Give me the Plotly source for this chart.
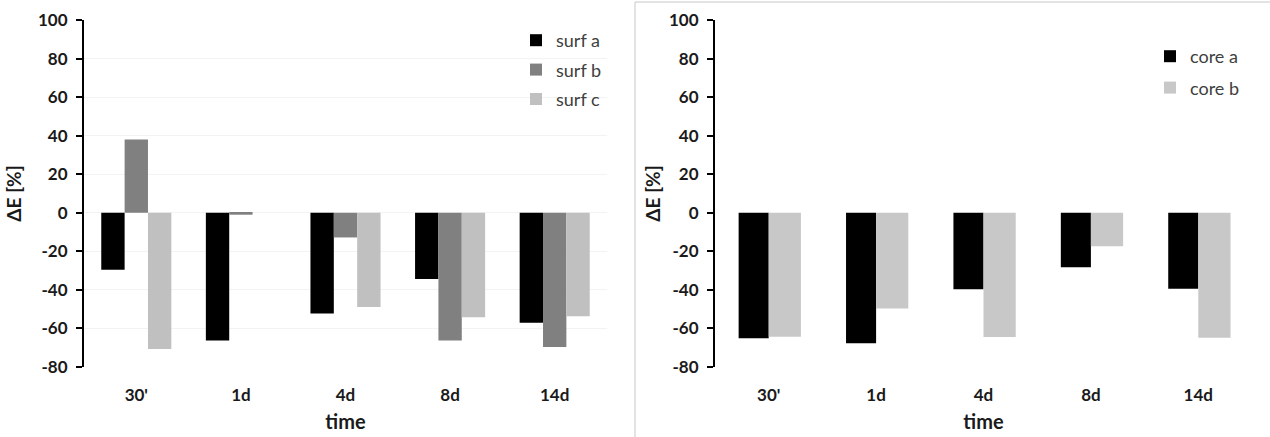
import plotly.graph_objects as go

categories = ["30'", "1d", "4d", "8d", "14d"]

surf_a = [-29.5, -66.3, -52.3, -34.4, -57.0]
surf_b = [38.0, -1.0, -12.8, -66.3, -69.6]
surf_c = [-70.6, 0.0, -48.9, -54.2, -53.7]

core_a = [-65.1, -67.7, -39.7, -28.2, -39.4]
core_b = [-64.3, -49.7, -64.4, -17.3, -64.8]

y_ticks = [-80, -60, -40, -20, 0, 20, 40, 60, 80, 100]
y_tick_labels = ["-80", "-60", "-40", "-20", "0", "20", "40", "60", "80", "100"]
y_range = [-80, 100]

W, H = 1270, 437
FONT = "Lato, 'Open Sans', sans-serif"
TXT = "#1a1a1a"

# domains (paper)
left_dom = [84 / W, 607 / W]
right_dom = [715 / W, 1252 / W]
y_dom = [1 - 367 / H, 1 - 20 / H]
zero_pos = y_dom[0] + (0 - y_range[0]) / (y_range[1] - y_range[0]) * (y_dom[1] - y_dom[0])

fig = go.Figure()

fig.add_trace(go.Bar(x=categories, y=surf_a, name="surf a", marker_color="#000000",
                     xaxis="x", yaxis="y", legend="legend", legendgroup="a"))
fig.add_trace(go.Bar(x=categories, y=surf_b, name="surf b", marker_color="#808080",
                     xaxis="x", yaxis="y", legend="legend", legendgroup="b"))
fig.add_trace(go.Bar(x=categories, y=surf_c, name="surf c", marker_color="#c0c0c0",
                     xaxis="x", yaxis="y", legend="legend", legendgroup="c"))

fig.add_trace(go.Bar(x=categories, y=core_a, name="core a", marker_color="#000000",
                     width=0.28, offset=-0.28,
                     xaxis="x2", yaxis="y2", legend="legend2", legendgroup="ca"))
fig.add_trace(go.Bar(x=categories, y=core_b, name="core b", marker_color="#c8c8c8",
                     width=0.30, offset=0.0,
                     xaxis="x2", yaxis="y2", legend="legend2", legendgroup="cb"))

for tr in fig.data:
    tr.marker.line.width = 0

xcommon = dict(type="category", categoryorder="array", categoryarray=categories,
               range=[-0.5, 4.5], showline=False, ticks="", showgrid=False, automargin=False,
               tickfont=dict(family=FONT, size=17, color=TXT, weight="bold"),
               ticklabelstandoff=16,
               title=dict(text="<b>time</b>", font=dict(family=FONT, size=20, color=TXT), standoff=10))
ycommon = dict(range=y_range, tickvals=y_ticks, ticktext=y_tick_labels,
               showline=True, linecolor="#000000", linewidth=2,
               ticks="outside", ticklen=6, tickwidth=2, tickcolor="#000000", automargin=False,
               tickfont=dict(family=FONT, size=17, color=TXT, weight="bold"),
               ticklabelstandoff=5, zeroline=False, domain=y_dom)
zcommon = dict(type="category", categoryorder="array", categoryarray=categories,
               range=[-0.5, 4.5], anchor="free", position=zero_pos, automargin=False,
               showline=True, linecolor="#000000", linewidth=2,
               ticks="outside", tickson="boundaries", ticklen=5, tickwidth=2, tickcolor="#000000",
               showticklabels=False, showgrid=False, zeroline=False)

fig.update_layout(
    width=W, height=H,
    margin=dict(l=0, r=0, t=0, b=0, autoexpand=False),
    paper_bgcolor="white", plot_bgcolor="white",
    barmode="group", bargap=0.33, bargroupgap=0,
    xaxis=dict(domain=left_dom, anchor="y", **xcommon),
    yaxis=dict(anchor="x", showgrid=True, gridcolor="#f3f3f3", gridwidth=1,
               title=dict(text="<b>ΔE [%]</b>", font=dict(family=FONT, size=19, color=TXT), standoff=11),
               **ycommon),
    xaxis2=dict(domain=right_dom, anchor="y2", **xcommon),
    yaxis2=dict(anchor="x2", showgrid=False,
                title=dict(text="<b>ΔE [%]</b>", font=dict(family=FONT, size=19, color=TXT), standoff=3),
                **ycommon),
    xaxis3=dict(overlaying="x", **zcommon),
    xaxis4=dict(overlaying="x2", **zcommon),
    legend=dict(x=516 / W, y=1 - 22 / H, xanchor="left", yanchor="top",
                font=dict(family=FONT, size=18, color="#404040"),
                traceorder="grouped", tracegroupgap=3, bgcolor="rgba(0,0,0,0)"),
    legend2=dict(x=1150 / W, y=1 - 38 / H, xanchor="left", yanchor="top",
                 font=dict(family=FONT, size=18, color="#404040"),
                 traceorder="grouped", tracegroupgap=5, bgcolor="rgba(0,0,0,0)"),
    showlegend=True,
    shapes=[
        dict(type="line", xref="paper", yref="paper", x0=635 / W, x1=1, y0=1 - 2 / H, y1=1 - 2 / H,
             line=dict(color="#c8c8c8", width=1)),
        dict(type="line", xref="paper", yref="paper", x0=635 / W, x1=635 / W, y0=0, y1=1 - 2 / H,
             line=dict(color="#c8c8c8", width=1)),
    ],
)

fig.write_html("out.html", config={"displayModeBar": False},
               post_script="document.body.style.margin='0';document.body.style.overflow='hidden';")
